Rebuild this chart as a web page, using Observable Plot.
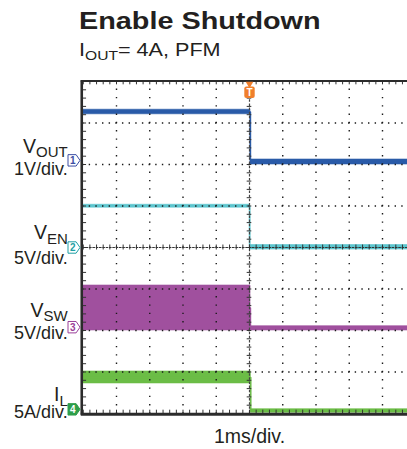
<!DOCTYPE html>
<html><head><meta charset="utf-8">
<script src="https://cdn.jsdelivr.net/npm/d3@7"></script>
<script src="https://cdn.jsdelivr.net/npm/@observablehq/plot@0.6"></script>
<style>
html,body{margin:0;padding:0;background:#fff;overflow:hidden;width:407px;height:449px;}
#wrap{position:relative;width:407px;height:449px;overflow:hidden;}
.hdr{position:absolute;left:79px;white-space:nowrap;font-family:"Liberation Sans",Arial,Helvetica,sans-serif;color:#231f20;line-height:1;transform:scaleX(1.2);transform-origin:0 0;}
#title{top:9px;font-size:24px;font-weight:bold;}
#subtitle{top:41px;font-size:18px;}
#subtitle sub{font-size:13px;vertical-align:-4px;line-height:0;}
#chart{position:absolute;left:0;top:0;}
#chart svg{overflow:hidden;}
</style></head>
<body><div id="wrap"><div id="chart"></div><div class="hdr" id="title">Enable Shutdown</div><div class="hdr" id="subtitle">I<sub>OUT</sub>= 4A, PFM</div></div>
<script>
// ---- data (time in ms, trigger at 0; 1 ms/div) ----
const chNames = [["V", "OUT"], ["V", "EN"], ["V", "SW"], ["I", "L"]];
const scaleLabels = ["1V/div.", "5V/div.", "5V/div.", "5A/div."];
const unitsPerDiv = [1, 5, 5, 5];
const offsetDiv = [2.1, 0, -1.92, -3.9];   // ground marker positions (divisions)
const chNumbers = ["1", "2", "3", "4"];
const timeLabel = "1ms/div.";

const voutT  = [-5, 0.03, 0.03, 5];
const voutLo = [1.11, 1.11, -0.10, -0.10];
const voutHi = [1.22, 1.22, 0.02, 0.02];

const venT  = [-5, 0.01, 0.01, 5];
const venLo = [4.8, 4.8, -0.25, -0.25];
const venHi = [5.15, 5.15, 0.3, 0.3];

const vswT  = [-5, 0.03, 0.03, 5];
const vswLo = [-0.4, -0.4, -0.4, -0.4];
const vswHi = [5.02, 5.02, 0.12, 0.12];

const ilT  = [-5, 0.04, 0.04, 5];
const ilLo = [3.12, 3.12, -0.42, -0.42];
const ilHi = [4.56, 4.56, 0.02, 0.02];

// ---- styles / layout ----
const traceColors = ["#2a5ba8", "#5cc6cf", "#a0509e", "#6bbd46"];
const markerColors = ["#3c4ea3", "#1e9fa3", "#9a3f98", "#2e9e4a"];
const markerFill = ["white", "white", "white", "#2e9e4a"];
const labelDy = [[-7, -3.5, 14.5], [-8.5, -3.5, 16], [-10, -6, 11.5], [-8.5, -3.5, 8.6]];
const FONT = "Liberation Sans, Arial, Helvetica, sans-serif";
const INK = "#231f20";
const GRID = "#1a1a1a";

const ctx = document.createElement("canvas").getContext("2d");
function textW(s, size) { ctx.font = `${size}px "Liberation Sans"`; return ctx.measureText(s).width; }

function rows(T, Lo, Hi, k) {
  return T.map((t, i) => ({
    t,
    lo: offsetDiv[k] + Lo[i] / unitsPerDiv[k],
    hi: offsetDiv[k] + Hi[i] / unitsPerDiv[k]
  }));
}
const traces = [rows(voutT, voutLo, voutHi, 0), rows(venT, venLo, venHi, 1), rows(vswT, vswLo, vswHi, 2), rows(ilT, ilLo, ilHi, 3)];

const gridX = d3.range(-4, 5).filter(d => d !== 0);
const gridY = d3.range(-3, 4).filter(d => d !== 0);
const minorX = d3.range(-25, 26).map(i => i / 5);
const minorY = d3.range(-20, 21).map(i => i / 5);

const pointer = {
  draw(c, size) {
    const r = Math.sqrt(size / Math.PI);
    const h = r * 0.95;
    c.moveTo(-r, -h); c.lineTo(r * 0.35, -h); c.lineTo(r, 0); c.lineTo(r * 0.35, h); c.lineTo(-r, h); c.closePath();
  }
};
const roundRect = {
  draw(c, size) {
    const r = Math.sqrt(size / Math.PI);
    const w = r, h = r * 1.1, q = 2;
    c.moveTo(-w + q, -h); c.lineTo(w - q, -h); c.quadraticCurveTo(w, -h, w, -h + q);
    c.lineTo(w, h - q); c.quadraticCurveTo(w, h, w - q, h); c.lineTo(-w + q, h);
    c.quadraticCurveTo(-w, h, -w, h - q); c.lineTo(-w, -h + q); c.quadraticCurveTo(-w, -h, -w + q, -h); c.closePath();
  }
};

const marks = [];
// traces
traces.forEach((data, k) => {
  marks.push(Plot.areaY(data, {x: "t", y1: "lo", y2: "hi", fill: traceColors[k], stroke: traceColors[k], strokeWidth: 0.6}));
  marks.push(Plot.line(data, {x: "t", y: d => (d.lo + d.hi) / 2, stroke: traceColors[k], strokeWidth: 1.4}));
});
// dotted graticule
marks.push(Plot.ruleX(gridX, {y1: -4, y2: 4, stroke: GRID, strokeWidth: 1.4, strokeDasharray: "1.4,6.9", strokeDashoffset: 0.7}));
marks.push(Plot.ruleY(gridY, {x1: -5, x2: 5, stroke: GRID, strokeWidth: 1.4, strokeDasharray: "1.4,5.25", strokeDashoffset: 0.7}));
// center lines with ticks
marks.push(Plot.ruleX([0], {y1: -4, y2: 4, stroke: "#444", strokeWidth: 1.2, strokeDasharray: "2.5,1.65"}));
marks.push(Plot.ruleY([0], {x1: -5, x2: 5, stroke: "#333", strokeWidth: 1, strokeDasharray: "2.6,0.725", strokeDashoffset: 0.36}));
marks.push(Plot.ruleY(minorY, {x1: -0.07, x2: 0.07, stroke: "#333", strokeWidth: 1}));
marks.push(Plot.ruleX(minorX, {y1: -0.06, y2: 0.06, stroke: "#333", strokeWidth: 1}));
// frame ticks
marks.push(Plot.ruleX(minorX, {y1: 4, y2: 3.92, stroke: "#333", strokeWidth: 1}));
marks.push(Plot.ruleX(minorX, {y1: -4, y2: -3.92, stroke: "#333", strokeWidth: 1}));
marks.push(Plot.ruleY(minorY, {x1: -5, x2: -4.9, stroke: "#333", strokeWidth: 1}));
// frame
marks.push(Plot.ruleX([-5], {y1: -4.04, y2: 4.02, stroke: "#2b2b2b", strokeWidth: 2.6, dx: -1.5}));
marks.push(Plot.ruleY([4], {x1: -5.06, x2: 5.3, stroke: "#2b2b2b", strokeWidth: 2, dy: -0.5}));
marks.push(Plot.ruleY([-4], {x1: -5.06, x2: 5.3, stroke: "#2b2b2b", strokeWidth: 3, dy: 0.8}));
// trigger marker
marks.push(Plot.dot([0], {x: d => d, y: 4, symbol: "triangle", rotate: 180, r: 2.8, fill: "#f07f2c", dy: 2.5}));
marks.push(Plot.dot([0], {x: d => d, y: 4, symbol: roundRect, r: 5.2, fill: "#f07f2c", dy: 10.8}));
marks.push(Plot.text(["T"], {x: 0, y: 4, dy: 11.2, text: d => d, fill: "white", fontSize: 10, fontWeight: "bold", fontFamily: FONT}));
// channel markers + labels
chNames.forEach((nm, k) => {
  marks.push(Plot.dot([k], {x: -5, y: offsetDiv[k], dx: -9.25, symbol: pointer, r: 6, fill: markerFill[k], stroke: markerColors[k], strokeWidth: 1}));
  marks.push(Plot.text([chNumbers[k]], {x: -5, y: offsetDiv[k], dx: -10.5, dy: 0.5, text: d => d, fill: k === 3 ? "white" : markerColors[k], fontSize: 10, fontWeight: "bold", fontFamily: FONT}));
  const subSize = 15, mainSize = 19.5, divSize = 18;
  const subW = textW(nm[1], subSize);
  marks.push(Plot.text([nm[1]], {x: -5, y: offsetDiv[k], dx: -15.5, dy: labelDy[k][1], lineAnchor: "bottom", textAnchor: "end", text: d => d, fontSize: subSize, fontFamily: FONT, fill: INK}));
  marks.push(Plot.text([nm[0]], {x: -5, y: offsetDiv[k], dx: -15.5 - subW, dy: labelDy[k][0], lineAnchor: "bottom", textAnchor: "end", text: d => d, fontSize: mainSize, fontFamily: FONT, fill: INK}));
  marks.push(Plot.text([scaleLabels[k]], {x: -5, y: offsetDiv[k], dx: -15.5, dy: labelDy[k][2], lineAnchor: "bottom", textAnchor: "end", text: d => d, fontSize: divSize, fontFamily: FONT, fill: INK}));
});
// time base label
marks.push(Plot.text([timeLabel], {x: 0, y: -4, dy: 29, lineAnchor: "bottom", text: d => d, fontSize: 19.5, fontFamily: FONT, fill: INK}));

const chart = Plot.plot({
  width: 407, height: 449,
  marginTop: 81, marginBottom: 36, marginLeft: 83, marginRight: 0,
  x: {domain: [-5, 5], range: [82.75, 415.25], axis: null},
  y: {domain: [-4, 4], range: [413, 81], axis: null},
  style: {fontFamily: FONT, background: "white"},
  marks
});
document.getElementById("chart").appendChild(chart);
</script>
</body></html>
